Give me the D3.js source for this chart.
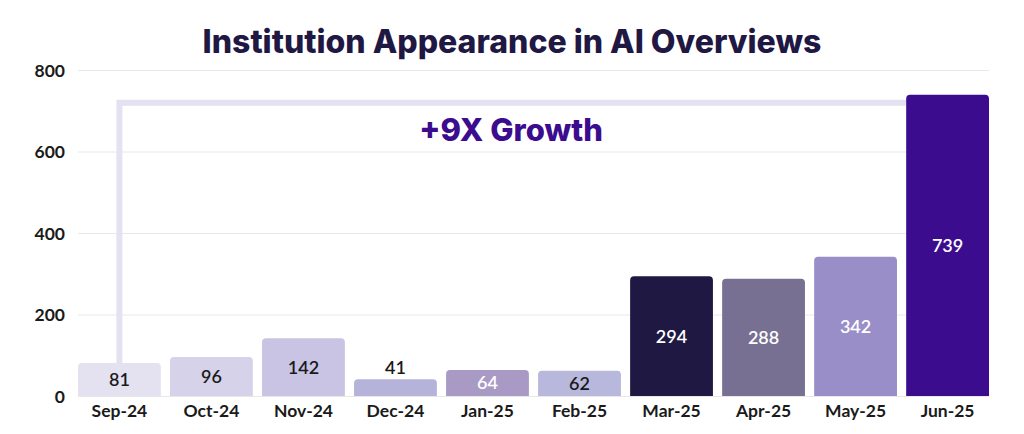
<!DOCTYPE html>
<html>
<head>
<meta charset="utf-8">
<script src="https://cdn.jsdelivr.net/npm/d3@7"></script>
<style>
  body { margin: 0; background: #fff; }
  svg { display: block; }
  .grid line { stroke: #e8e8e8; }
  .grid .domain { display: none; }
  .axis text { font-family: Lato, sans-serif; font-weight: bold; font-size: 17.5px; fill: #1a1a1a; }
  .axis .domain, .axis line { display: none; }
</style>
</head>
<body>
<div id="chart"></div>
<script>
// chart values
var months = ["Sep-24", "Oct-24", "Nov-24", "Dec-24", "Jan-25", "Feb-25", "Mar-25", "Apr-25", "May-25", "Jun-25"];
var appearances = [81, 96, 142, 41, 64, 62, 294, 288, 342, 739];
var yTicks = [0, 200, 400, 600, 800];
var titleText = "Institution Appearance in AI Overviews";
var growthText = "+9X Growth";

// one fill per bar
var barColors = ["#e4e1f1", "#d6d2ea", "#c9c4e4", "#b5b3da", "#a89ac5", "#b8b7dc",
                 "#1f1843", "#787092", "#998ec7", "#3c0c8f"];

var svgWidth = 1024, svgHeight = 434;
var margin = { top: 70, right: 35, bottom: 38, left: 78 };
var width = svgWidth - margin.left - margin.right;
var height = svgHeight - margin.top - margin.bottom;

var svg = d3.select("#chart").append("svg")
  .attr("width", svgWidth)
  .attr("height", svgHeight);

svg.append("text")
  .attr("x", 512)
  .attr("y", 53)
  .attr("text-anchor", "middle")
  .attr("font-family", "Inter, 'Open Sans', sans-serif")
  .attr("font-weight", 800)
  .attr("font-size", "32px")
  .attr("fill", "#1f1843")
  .text(titleText);

var chartGroup = svg.append("g")
  .attr("transform", `translate(${margin.left}, ${margin.top})`);

var x = d3.scaleBand()
  .domain(months)
  .range([0, width])
  .paddingInner(0.1)
  .paddingOuter(0);

var y = d3.scaleLinear()
  .domain([0, 800])
  .range([height, 0]);

// gridlines
chartGroup.append("g")
  .attr("class", "grid")
  .call(d3.axisLeft(y).tickValues(yTicks).tickSize(-width).tickFormat(""));

// y axis labels
chartGroup.append("g")
  .attr("class", "axis")
  .attr("transform", "translate(-10,0)")
  .call(d3.axisLeft(y).tickValues(yTicks).tickSize(0))
  .selectAll("text").attr("dy", "0.35em");

// x axis labels
chartGroup.append("g")
  .attr("class", "axis")
  .attr("transform", `translate(0, ${height})`)
  .call(d3.axisBottom(x).tickSize(0).tickPadding(9));

// growth bracket from first bar to last bar
var first = months[0], last = months[months.length - 1];
var bracketY = y(appearances[appearances.length - 1]) + 8;
chartGroup.append("path")
  .attr("d", `M${x(first) + x.bandwidth() / 2},${y(appearances[0])} V${bracketY} H${x(last)}`)
  .attr("fill", "none")
  .attr("stroke", "#e4e1f1")
  .attr("stroke-width", 6)
  .attr("stroke-linejoin", "miter");

chartGroup.append("text")
  .attr("x", (x(first) + x(last)) / 2 + 19)
  .attr("y", bracketY + 38)
  .attr("text-anchor", "middle")
  .attr("font-family", "Inter, 'Open Sans', sans-serif")
  .attr("font-weight", 800)
  .attr("font-size", "31px")
  .attr("fill", "#3c0c8f")
  .text(growthText);

// bars with rounded top corners
var r = 4;
function barPath(d, i) {
  var x0 = x(months[i]), x1 = x0 + x.bandwidth();
  var y0 = y(d), y1 = y(0);
  return `M${x0},${y1} V${y0 + r} Q${x0},${y0} ${x0 + r},${y0} H${x1 - r} Q${x1},${y0} ${x1},${y0 + r} V${y1} Z`;
}

chartGroup.selectAll(".bar")
  .data(appearances)
  .enter()
  .append("path")
  .attr("class", "bar")
  .attr("d", barPath)
  .attr("fill", (d, i) => barColors[i]);

// value labels: centred in the bar, above it if the bar is too short
chartGroup.selectAll(".value")
  .data(appearances)
  .enter()
  .append("text")
  .attr("class", "value")
  .attr("x", (d, i) => x(months[i]) + x.bandwidth() / 2)
  .attr("y", function(d) {
    var h = y(0) - y(d);
    return h < 24 ? y(d) - 5 : (y(d) + y(0)) / 2 + 6.5;
  })
  .attr("text-anchor", "middle")
  .attr("font-family", "Lato, sans-serif")
  .attr("font-weight", 600)
  .attr("font-size", "18px")
  .attr("fill", function(d, i) {
    var h = y(0) - y(d);
    if (h < 24) return "#1a1a1a";
    return d3.lab(barColors[i]).l < 70 ? "#ffffff" : "#1a1a1a";
  })
  .text(d => d);
</script>
</body>
</html>
